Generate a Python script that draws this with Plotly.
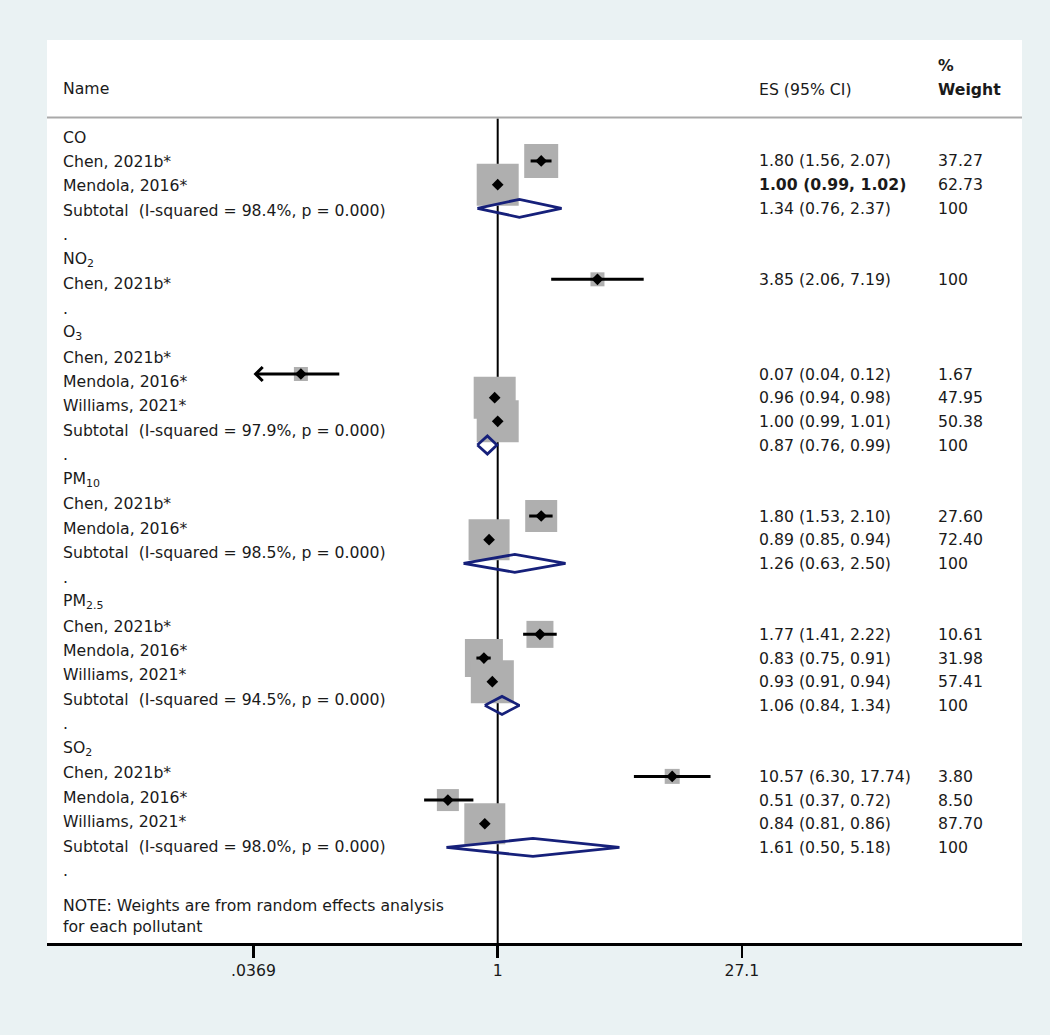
import numpy as np
import plotly.graph_objects as go

# ---------------- data ----------------
groups = ["CO", "NO<sub>2</sub>", "O<sub>3</sub>", "PM<sub>10</sub>", "PM<sub>2.5</sub>", "SO<sub>2</sub>"]

study_group = [0, 0, 1, 2, 2, 2, 3, 3, 4, 4, 4, 5, 5, 5]
study_names = ["Chen, 2021b*", "Mendola, 2016*",
               "Chen, 2021b*",
               "Chen, 2021b*", "Mendola, 2016*", "Williams, 2021*",
               "Chen, 2021b*", "Mendola, 2016*",
               "Chen, 2021b*", "Mendola, 2016*", "Williams, 2021*",
               "Chen, 2021b*", "Mendola, 2016*", "Williams, 2021*"]
study_es = [1.80, 1.00, 3.85, 0.07, 0.96, 1.00, 1.80, 0.89, 1.77, 0.83, 0.93, 10.57, 0.51, 0.84]
study_lcl = [1.56, 0.99, 2.06, 0.04, 0.94, 0.99, 1.53, 0.85, 1.41, 0.75, 0.91, 6.30, 0.37, 0.81]
study_ucl = [2.07, 1.02, 7.19, 0.12, 0.98, 1.01, 2.10, 0.94, 2.22, 0.91, 0.94, 17.74, 0.72, 0.86]
study_weight = [37.27, 62.73, 100, 1.67, 47.95, 50.38, 27.60, 72.40, 10.61, 31.98, 57.41, 3.80, 8.50, 87.70]

sub_group = [0, 2, 3, 4, 5]
sub_i2 = [98.4, 97.9, 98.5, 94.5, 98.0]
sub_p = [0.000, 0.000, 0.000, 0.000, 0.000]
sub_es = [1.34, 0.87, 1.26, 1.06, 1.61]
sub_lcl = [0.76, 0.76, 0.63, 0.84, 0.50]
sub_ucl = [2.37, 0.99, 2.50, 1.34, 5.18]
sub_weight = [100, 100, 100, 100, 100]

x_ticks = [0.0369, 1, 27.1]
x_ticklabels = [".0369", "1", "27.1"]
note_lines = ["NOTE: Weights are from random effects analysis", "for each pollutant"]

# ---------------- styles (not data) ----------------
box_px = [34, 42, 14, 14, 42, 42, 32, 41, 27, 38, 43, 15, 22, 41]
bold_es = [False, True] + [False] * 12
ci_arrow_left = [False, False, False, True] + [False] * 10
right_extra_rows = {2: 1}          # blank line in the statistics column under O3 header

FONT = "DejaVu Sans"
FS = 15.7
TXT = "#1a1a1a"
BOX = "#afafaf"
NAVY = "#16207a"
BG = "#eaf2f3"

W, H = 1050, 1035
L, R, T, B = 47, 1022, 40, 943          # plot area in pixels
PW, PH = R - L, B - T

def px_x(px):
    return (px - L) / PW

def px_y(py):
    return (B - py) / PH

# x scale (log) : "1" at 497.7 px, 170.4 px per decade
X1PX, DEC = 497.7, 170.4
xrange_log = [(L - X1PX) / DEC, (R - X1PX) / DEC]

# left label rows and right statistic rows
L0, LSTEP = 137.0, 24.45
R0, RSTEP = 137.3, 23.67
yrange_left = [(B - L0) / LSTEP, (T - L0) / LSTEP]
yrange_right = [(B - R0) / RSTEP, (T - R0) / RSTEP]

# ---------------- row layout ----------------
left_items = []
study_row = []
sub_row = []
lr, rr = 0, 0
for g, gname in enumerate(groups):
    left_items.append((lr, gname))
    lr += 1
    rr += 1 + right_extra_rows.get(g, 0)
    for i, sg in enumerate(study_group):
        if sg == g:
            left_items.append((lr, study_names[i]))
            study_row.append(rr)
            lr += 1
            rr += 1
    if g in sub_group:
        k = sub_group.index(g)
        left_items.append((lr, f"Subtotal\u00a0 (I-squared = {sub_i2[k]:.1f}%, p = {sub_p[k]:.3f})"))
        sub_row.append(rr)
        lr += 1
        rr += 1
    left_items.append((lr, "."))
    lr += 1
    rr += 1

def fmt_w(w):
    return "100" if w == 100 else f"{w:.2f}"

fig = go.Figure()

# null line at ES = 1
sep_py = 117.5
fig.add_trace(go.Scatter(x=[1, 1], y=[(sep_py + 1 - R0) / RSTEP, yrange_right[0]],
                         mode="lines", line=dict(color="black", width=2),
                         yaxis="y2", hoverinfo="skip"))

# weight boxes
fig.add_trace(go.Scatter(x=study_es, y=study_row, mode="markers", yaxis="y2",
                         marker=dict(symbol="square", size=box_px, color=BOX, opacity=1,
                                     line=dict(width=0)),
                         hoverinfo="skip"))

# CI lines
cx, cy = [], []
for i in range(len(study_es)):
    if ci_arrow_left[i]:
        continue
    cx += [study_lcl[i], study_ucl[i], None]
    cy += [study_row[i], study_row[i], None]
fig.add_trace(go.Scatter(x=cx, y=cy, mode="lines", yaxis="y2",
                         line=dict(color="black", width=3), hoverinfo="skip"))

# subtotal diamonds
dh = 0.38
dx, dy = [], []
for k in range(len(sub_es)):
    r = sub_row[k]
    dx += [sub_lcl[k], sub_es[k], sub_ucl[k], sub_es[k], sub_lcl[k], None]
    dy += [r, r - dh, r, r + dh, r, None]
fig.add_trace(go.Scatter(x=dx, y=dy, mode="lines", yaxis="y2",
                         line=dict(color=NAVY, width=2.8), hoverinfo="skip"))

# point estimates
fig.add_trace(go.Scatter(x=study_es, y=study_row, mode="markers", yaxis="y2",
                         marker=dict(symbol="diamond", size=9, color="black", line=dict(width=0)),
                         hoverinfo="skip"))

ann = []
tfont = dict(family=FONT, size=FS, color=TXT)

# left labels
for r, txt in left_items:
    ann.append(dict(x=px_x(62), y=r, xref="paper", yref="y", text=txt, showarrow=False,
                    xanchor="left", yanchor="middle", font=tfont, borderpad=0))
for j, line in enumerate(note_lines):
    ann.append(dict(x=px_x(62), y=px_y(905 + 21.7 * j), xref="paper", yref="paper", text=line,
                    showarrow=False, xanchor="left", yanchor="middle", font=tfont, borderpad=0))

# statistics columns
for i in range(len(study_es)):
    t = f"{study_es[i]:.2f} ({study_lcl[i]:.2f}, {study_ucl[i]:.2f})"
    if bold_es[i]:
        t = f"<b>{t}</b>"
    ann.append(dict(x=px_x(758), y=study_row[i], xref="paper", yref="y2", text=t, showarrow=False,
                    xanchor="left", yanchor="middle", font=tfont, borderpad=0))
    ann.append(dict(x=px_x(937), y=study_row[i], xref="paper", yref="y2", text=fmt_w(study_weight[i]),
                    showarrow=False, xanchor="left", yanchor="middle", font=tfont, borderpad=0))
for k in range(len(sub_es)):
    t = f"{sub_es[k]:.2f} ({sub_lcl[k]:.2f}, {sub_ucl[k]:.2f})"
    ann.append(dict(x=px_x(758), y=sub_row[k], xref="paper", yref="y2", text=t, showarrow=False,
                    xanchor="left", yanchor="middle", font=tfont, borderpad=0))
    ann.append(dict(x=px_x(937), y=sub_row[k], xref="paper", yref="y2", text=fmt_w(sub_weight[k]),
                    showarrow=False, xanchor="left", yanchor="middle", font=tfont, borderpad=0))

# headers
ann.append(dict(x=px_x(62), y=px_y(89), xref="paper", yref="paper", text="Name", showarrow=False,
                xanchor="left", yanchor="middle", font=tfont, borderpad=0))
ann.append(dict(x=px_x(758), y=px_y(90), xref="paper", yref="paper", text="ES (95% CI)", showarrow=False,
                xanchor="left", yanchor="middle", font=tfont, borderpad=0))
ann.append(dict(x=px_x(937), y=px_y(65.5), xref="paper", yref="paper", text="<b>%</b>", showarrow=False,
                xanchor="left", yanchor="middle", font=tfont, borderpad=0))
ann.append(dict(x=px_x(937), y=px_y(90), xref="paper", yref="paper", text="<b>Weight</b>", showarrow=False,
                xanchor="left", yanchor="middle", font=tfont, borderpad=0))

# truncated CI arrows
for i in range(len(study_es)):
    if ci_arrow_left[i]:
        ann.append(dict(x=np.log10(x_ticks[0]), y=study_row[i], xref="x", yref="y2",
                        ax=np.log10(study_ucl[i]), ay=study_row[i], axref="x", ayref="y2",
                        text="", showarrow=True, arrowhead=4, arrowsize=0.9, arrowwidth=3,
                        arrowcolor="black", standoff=0, startstandoff=0))

fig.update_layout(
    width=W, height=H,
    margin=dict(l=L, r=W - R, t=T, b=H - B, pad=0),
    paper_bgcolor=BG, plot_bgcolor="white",
    showlegend=False,
    font=dict(family=FONT, size=FS, color=TXT),
    annotations=ann,
    shapes=[dict(type="line", xref="paper", yref="paper", x0=0, x1=1,
                 y0=px_y(sep_py), y1=px_y(sep_py), line=dict(color="#a9a9a9", width=2))],
    xaxis=dict(type="log", range=xrange_log, tickvals=x_ticks, ticktext=x_ticklabels,
               ticks="outside", ticklen=12, tickwidth=2.5, tickcolor="black",
               showline=True, linecolor="black", linewidth=2.5, showgrid=False, zeroline=False,
               tickfont=dict(family=FONT, size=FS, color=TXT), fixedrange=True),
    yaxis=dict(range=yrange_left, visible=False, showgrid=False, zeroline=False, fixedrange=True),
    yaxis2=dict(range=yrange_right, overlaying="y", visible=False, showgrid=False,
                zeroline=False, fixedrange=True),
)

fig.write_html("out.html",
               config={"displayModeBar": False, "staticPlot": True},
               post_script="document.body.style.margin='0px';document.body.style.background='%s';" % BG)
